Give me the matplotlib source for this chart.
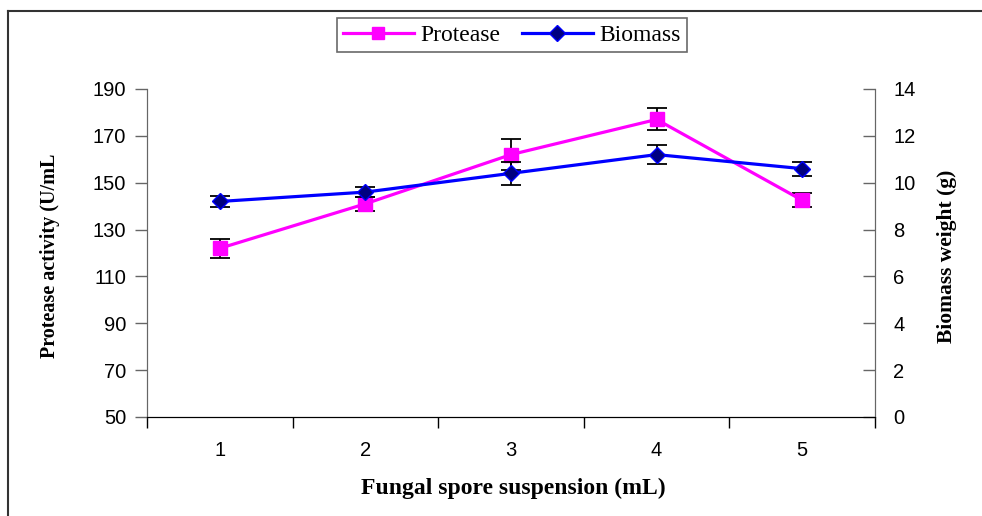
import numpy as np
import matplotlib.pyplot as plt
from matplotlib.lines import Line2D

# data
spore_ml = ["1", "2", "3", "4", "5"]
protease = [122, 141, 162, 177, 142.5]
protease_err = [4, 3, 6.5, 4.7, 3]
biomass = [9.2, 9.6, 10.4, 11.2, 10.6]
biomass_err = [0.23, 0.2, 0.5, 0.4, 0.3]

left_ticks = [50, 70, 90, 110, 130, 150, 170, 190]
right_ticks = [0, 2, 4, 6, 8, 10, 12, 14]

sans = "Liberation Sans"
serif = "Liberation Serif"

fig = plt.figure(figsize=(9.82, 5.16), dpi=100)
ax = fig.add_axes([147 / 982, 1 - 417 / 516, (875 - 147) / 982, (417 - 89) / 516])
ax2 = ax.twinx()

x = np.arange(len(spore_ml))

# protease on the left axis
ax.errorbar(x, protease, yerr=protease_err, color="#ff00ff", lw=2.3, marker="s",
            ms=9.5, mec="#ff00ff", ecolor="black", elinewidth=1.3, capsize=7,
            capthick=1.3, zorder=3)
# biomass on the right axis
ax2.errorbar(x, biomass, yerr=biomass_err, color="#0000ff", lw=2.3, marker="D",
             ms=8, mfc="#000080", mec="#0000ff", ecolor="black", elinewidth=1.3,
             capsize=7, capthick=1.3, zorder=3)

ax.set_xlim(-0.5, len(spore_ml) - 0.5)
ax.set_ylim(50, 190)
ax2.set_ylim(0, 14)
ax.set_yticks(left_ticks)
ax2.set_yticks(right_ticks)

# category ticks sit between the groups, labels at the centres
ax.set_xticks(np.arange(-0.5, len(spore_ml)), minor=False)
ax.set_xticklabels([])
ax.set_xticks(x, minor=True)
ax.set_xticklabels(spore_ml, minor=True, fontsize=14.5, family=sans)
ax.tick_params(axis="x", which="minor", length=0, pad=17)
ax.tick_params(axis="x", which="major", length=8, width=1, direction="out")

ax.tick_params(axis="y", length=9, width=1, color="#666666", direction="out",
               labelsize=14.5, pad=6)
ax2.tick_params(axis="y", length=9, width=1, color="#666666", direction="in",
                labelsize=14.5, pad=13)
for lab in ax.get_yticklabels() + ax2.get_yticklabels():
    lab.set_family(sans)

for a in (ax, ax2):
    a.spines["top"].set_visible(False)
    a.spines["left"].set_color("#666666")
    a.spines["right"].set_color("#666666")
    a.spines["bottom"].set_color("black")

# axis titles placed where the reference has them
fig.text(513 / 982, 1 - 488 / 516, "Fungal spore suspension (mL)", family=serif,
         fontweight="bold", fontsize=17, ha="center", va="center")
fig.text(50 / 982, 1 - 256 / 516, "Protease activity (U/mL", family=serif,
         fontweight="bold", fontsize=14.5, rotation=90, ha="center", va="center")
fig.text(947 / 982, 1 - 256 / 516, "Biomass weight (g)", family=serif,
         fontweight="bold", fontsize=15.5, rotation=90, ha="center", va="center")

handles = [
    Line2D([], [], color="#ff00ff", lw=2.3, marker="s", ms=9),
    Line2D([], [], color="#0000ff", lw=2.3, marker="D", ms=8, mfc="#000080"),
]
leg = fig.legend(handles, ["Protease", "Biomass"], loc="center",
                 bbox_to_anchor=(512 / 982, 1 - 35 / 516), ncol=2, frameon=True,
                 fancybox=False, edgecolor="#444444", borderpad=0.25,
                 handlelength=3, columnspacing=0.9, handletextpad=0.3,
                 prop={"family": serif, "size": 17})
leg.get_frame().set_linewidth(1.2)

# outer border of the chart area
fig.add_artist(Line2D([8 / 982, 8 / 982], [0, 1 - 11 / 516], color="#333333",
                      lw=1.5, transform=fig.transFigure))
fig.add_artist(Line2D([8 / 982, 1], [1 - 11 / 516, 1 - 11 / 516], color="#333333",
                      lw=1.5, transform=fig.transFigure))

fig.savefig("out.png", dpi=100)
